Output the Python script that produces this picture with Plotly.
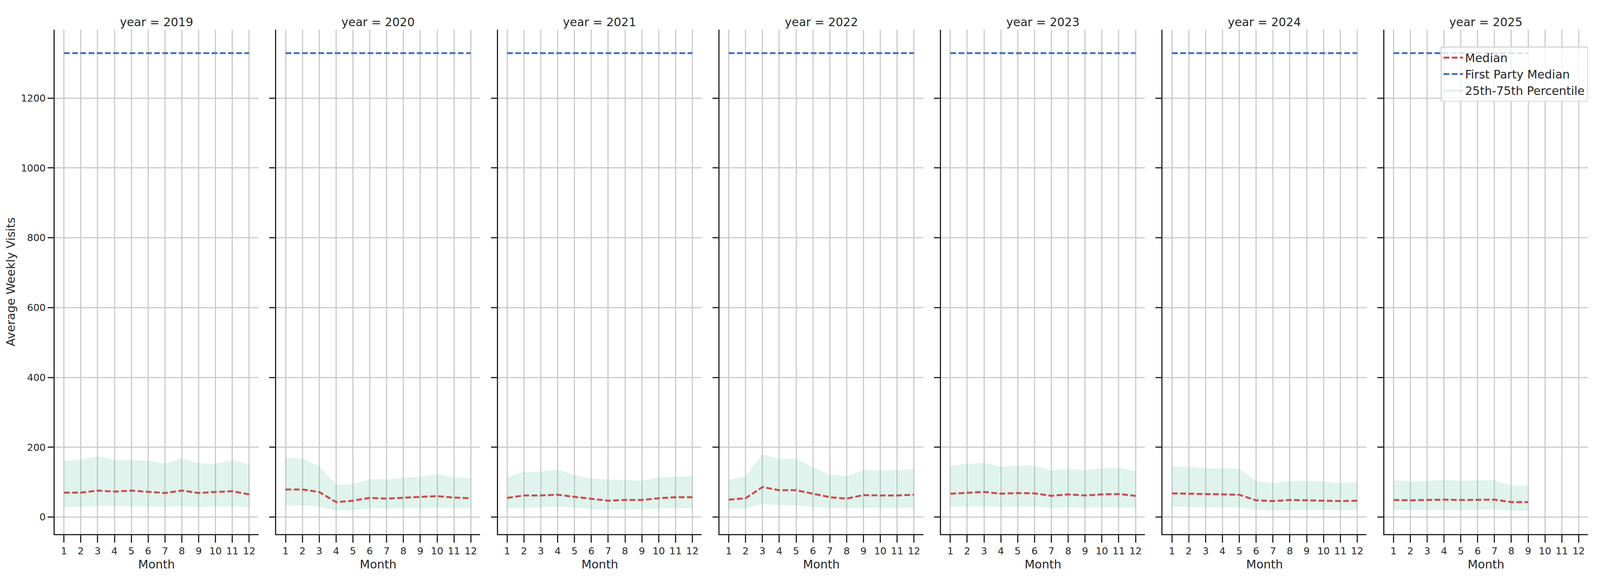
import plotly.graph_objects as go

years = [2019, 2020, 2021, 2022, 2023, 2024, 2025]
month_ticks = [1, 2, 3, 4, 5, 6, 7, 8, 9, 10, 11, 12]
y_ticks = [0, 200, 400, 600, 800, 1000, 1200]

months_by_year = {
    2019: [1, 2, 3, 4, 5, 6, 7, 8, 9, 10, 11, 12],
    2020: [1, 2, 3, 4, 5, 6, 7, 8, 9, 10, 11, 12],
    2021: [1, 2, 3, 4, 5, 6, 7, 8, 9, 10, 11, 12],
    2022: [1, 2, 3, 4, 5, 6, 7, 8, 9, 10, 11, 12],
    2023: [1, 2, 3, 4, 5, 6, 7, 8, 9, 10, 11, 12],
    2024: [1, 2, 3, 4, 5, 6, 7, 8, 9, 10, 11, 12],
    2025: [1, 2, 3, 4, 5, 6, 7, 8, 9],
}

median = {
    2019: [70, 70, 76, 73, 76, 72, 69, 76, 69, 72, 74, 65],
    2020: [79, 79, 72, 43, 47, 55, 53, 56, 58, 60, 56, 54],
    2021: [55, 62, 62, 64, 58, 52, 47, 49, 49, 54, 57, 57],
    2022: [50, 54, 86, 77, 77, 67, 57, 53, 63, 62, 62, 64],
    2023: [67, 70, 72, 67, 69, 68, 61, 65, 62, 65, 66, 61],
    2024: [68, 67, 66, 64, 64, 48, 46, 49, 48, 48, 46, 47],
    2025: [49, 48, 49, 50, 49, 49, 50, 43, 43],
}

p75 = {
    2019: [160, 165, 174, 163, 164, 162, 153, 168, 154, 153, 163, 152],
    2020: [171, 167, 146, 92, 95, 109, 108, 113, 116, 123, 114, 111],
    2021: [114, 129, 130, 136, 120, 110, 108, 106, 104, 114, 116, 118],
    2022: [107, 117, 180, 167, 167, 143, 122, 117, 135, 133, 134, 138],
    2023: [147, 152, 156, 145, 148, 147, 133, 139, 134, 141, 142, 131],
    2024: [145, 144, 140, 140, 138, 104, 97, 104, 103, 102, 97, 101],
    2025: [105, 102, 104, 106, 104, 105, 105, 90, 90],
}

p25 = {
    2019: [29, 29, 32, 32, 31, 31, 29, 32, 28, 31, 31, 28],
    2020: [33, 34, 30, 18, 20, 25, 25, 26, 26, 27, 25, 25],
    2021: [25, 27, 28, 30, 27, 23, 21, 22, 22, 25, 25, 25],
    2022: [24, 25, 37, 34, 34, 29, 27, 25, 27, 27, 26, 27],
    2023: [29, 31, 31, 29, 30, 30, 27, 28, 27, 28, 28, 27],
    2024: [29, 29, 28, 28, 28, 21, 19, 21, 21, 21, 20, 20],
    2025: [21, 20, 21, 21, 21, 21, 22, 18, 18],
}

first_party_median = 1329

RED = "#C44E52"
BLUE = "#4C72B0"
FILL = "rgba(102,194,165,0.2)"
TXT = "#262626"
GRID = "#cccccc"
FONT = "DejaVu Sans"

# The photographed viewport is ~4096 px wide and 1500 px tall, so the figure
# fills the window width and keeps the reference's vertical layout.
VIEW_W = 4096.0
RX = VIEW_W / 5250.0
OFF = 8          # default body margin
H = 1500 - 2 * OFF
FW = VIEW_W - 2 * OFF

PL = 180 * RX - OFF
PR = 5210 * RX - OFF
PT = 76 - OFF
PB = 1367 - OFF
ML, MR, MT, MB = PL, FW - PR, PT, H - PB
PH = PB - PT

REF_PLOT_W = 5030.0
PANEL_STEP = 727.0
PANEL_W = 668.5

F_TICK = 25
F_LAB = 30
LW = 5
DASH = "%.1fpx,%.1fpx" % (19 * RX, 8 * RX)

fig = go.Figure()

for i, yr in enumerate(years):
    idx = "" if i == 0 else str(i + 1)
    xa = "x" + idx
    ya = "y" + idx
    mx = months_by_year[yr]
    first = (i == 0)
    fig.add_trace(go.Scatter(x=mx, y=p25[yr], xaxis=xa, yaxis=ya, mode="lines",
                             line=dict(width=0, color=FILL), showlegend=False,
                             hoverinfo="skip", legendgroup="band"))
    fig.add_trace(go.Scatter(x=mx, y=p75[yr], xaxis=xa, yaxis=ya, mode="lines",
                             line=dict(width=0, color=FILL), fill="tonexty", fillcolor=FILL,
                             name="25th-75th Percentile", showlegend=first,
                             legendgroup="band", legendrank=3))
    fig.add_trace(go.Scatter(x=mx, y=median[yr], xaxis=xa, yaxis=ya, mode="lines",
                             line=dict(color=RED, width=LW, dash=DASH),
                             name="Median", showlegend=first, legendgroup="med", legendrank=1))
    fig.add_trace(go.Scatter(x=[mx[0], mx[-1]], y=[first_party_median, first_party_median],
                             xaxis=xa, yaxis=ya, mode="lines",
                             line=dict(color=BLUE, width=LW, dash=DASH),
                             name="First Party Median", showlegend=first,
                             legendgroup="fp", legendrank=2))

    x0 = min(1.0, (i * PANEL_STEP) / REF_PLOT_W)
    x1 = min(1.0, (i * PANEL_STEP + PANEL_W) / REF_PLOT_W)
    xkey = "xaxis" if i == 0 else "xaxis%d" % (i + 1)
    ykey = "yaxis" if i == 0 else "yaxis%d" % (i + 1)
    fig.layout[xkey] = dict(
        domain=[x0, x1], anchor=ya, range=[0.45, 12.55],
        tickmode="array", tickvals=month_ticks, ticktext=[str(m) for m in month_ticks],
        showgrid=True, gridcolor=GRID, gridwidth=2.5, zeroline=False,
        showline=True, linecolor=TXT, linewidth=3.3, mirror=False,
        ticks="outside", ticklen=19, tickwidth=3, tickcolor=TXT,
        tickfont=dict(family=FONT, size=F_TICK, color=TXT),
        title=dict(text="Month", font=dict(family=FONT, size=F_LAB, color=TXT), standoff=10),
    )
    fig.layout[ykey] = dict(
        domain=[0, 1], anchor=xa, range=[-48.5, 1396],
        tickmode="array", tickvals=y_ticks, ticktext=[str(v) for v in y_ticks],
        showticklabels=first,
        showgrid=True, gridcolor=GRID, gridwidth=2.5, zeroline=False,
        showline=True, linecolor=TXT, linewidth=3, mirror=False,
        ticks="outside", ticklen=15, tickwidth=3.3, tickcolor=TXT,
        tickfont=dict(family=FONT, size=F_TICK, color=TXT),
        title=dict(text="Average Weekly Visits" if first else "",
                   font=dict(family=FONT, size=F_LAB, color=TXT), standoff=6),
    )
    fig.add_annotation(text="year = %d" % yr, xref="paper", yref="paper",
                       x=(x0 + x1) / 2, y=1.0, xanchor="center", yanchor="bottom",
                       showarrow=False, font=dict(family=FONT, size=F_LAB, color=TXT))

fig.update_layout(
    height=H, autosize=True,
    margin=dict(l=ML, r=MR, t=MT, b=MB, autoexpand=False),
    paper_bgcolor="white", plot_bgcolor="white",
    font=dict(family=FONT, color=TXT),
    showlegend=True,
    legend=dict(x=1.0, xanchor="right", y=(PB - (119 - OFF)) / PH,
                yanchor="top", bgcolor="rgba(255,255,255,0.8)", bordercolor="#d5d5d5",
                borderwidth=2.5, font=dict(family=FONT, size=F_LAB, color=TXT),
                itemwidth=50, traceorder="normal"),
)

fig.write_html("out.html", default_width="100%", default_height="%dpx" % H)
